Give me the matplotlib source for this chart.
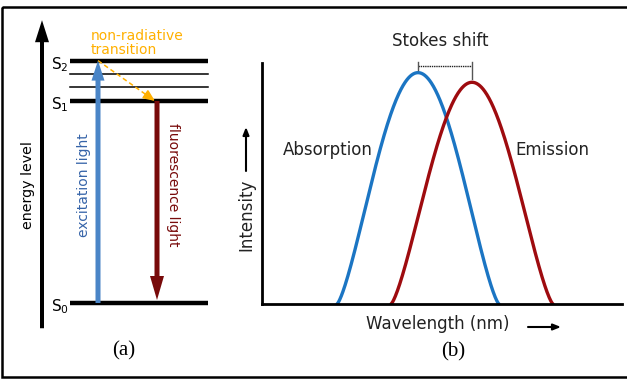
import numpy as np
import matplotlib.pyplot as plt
from matplotlib.patches import Rectangle

# Jablonski diagram: energy levels (arbitrary units)
level_names = ["S$_0$", "S$_1$", "S$_2$"]
level_energy = [0.0, 2.0, 2.4]
vib_energy = [2.27, 2.14]

# spectra: peak wavelength, half width and peak height of each band
band_names = ["Absorption", "Emission"]
band_peak = [456, 510]
band_halfwidth = [81, 81]
band_height = [0.96, 0.92]
band_colors = ["#1b75c3", "#9e0b0f"]

W, H = 627, 379
fig = plt.figure(figsize=(W / 100, H / 100), dpi=100)

# background axes in pixel units for frame and free text
bg = fig.add_axes([0, 0, 1, 1])
bg.set_xlim(0, W)
bg.set_ylim(H, 0)
bg.axis("off")
bg.add_patch(Rectangle((2, 7), 640, 370, fill=False, lw=1.8, ec="black"))

# ---------------- panel (a) ----------------
ax_a = fig.add_axes([0, 0, 230 / W, 1])
ax_a.set_xlim(0, 230)
ax_a.set_ylim((303 - H) / 101, 303 / 101)
ax_a.axis("off")
px = 1 / 101  # one pixel in energy units

# energy axis arrow
ax_a.arrow(42, -0.25, 0, 3.05, width=4, head_width=14, head_length=22 * px,
           length_includes_head=True, color="black", lw=0)
ax_a.text(28, 1.17, "energy level", rotation=90, ha="center", va="center",
          fontsize=10.3)

x0, x1 = 70, 208
for name, e in zip(level_names, level_energy):
    ax_a.plot([x0, x1], [e, e], color="black", lw=3.2, solid_capstyle="butt")
    ax_a.text(69, e - 4 * px, name, ha="right", va="center", fontsize=11)
for e in vib_energy:
    ax_a.plot([x0, x1], [e, e], color="black", lw=1.1)

# excitation (up) and fluorescence (down)
ax_a.arrow(98, level_energy[0], 0, level_energy[2] - level_energy[0],
           width=5, head_width=13, head_length=20 * px,
           length_includes_head=True, color="#4a85c7", lw=0, zorder=3)
ax_a.arrow(157, level_energy[1], 0, level_energy[0] + 3 * px - level_energy[1],
           width=5, head_width=14, head_length=24 * px,
           length_includes_head=True, color="#780a0a", lw=0, zorder=3)
ax_a.text(84, 1.17, "excitation light", rotation=90, ha="center", va="center",
          fontsize=10, color="#3563a8")
ax_a.text(173, 1.17, "fluorescence light", rotation=-90, ha="center",
          va="center", fontsize=10, color="#780a0a")

# non-radiative relaxation S2 -> S1
orange = "#ffb000"
ax_a.plot([98, 146], [level_energy[2], level_energy[2] - 0.337], color=orange,
          lw=1.1, ls=(0, (3, 2)))
ax_a.annotate("", xy=(155, level_energy[1]),
              xytext=(145, level_energy[2] - 0.33),
              arrowprops=dict(arrowstyle="-|>,head_length=0.7,head_width=0.3",
                              color=orange, lw=1.1, shrinkA=0, shrinkB=0))
ax_a.text(91, 43, "non-radiative\ntransition", transform=bg.transData,
          ha="left", va="center", fontsize=10, color=orange, linespacing=1.0)

bg.text(124, 351, "(a)", ha="center", va="center", fontsize=15,
        family="Liberation Serif")

# ---------------- panel (b) ----------------
ax_b = fig.add_axes([262 / W, (H - 304) / H, 360 / W, 241 / H])
ax_b.set_xlim(300, 660)
ax_b.set_ylim(0, 1)
for side in ["top", "right"]:
    ax_b.spines[side].set_visible(False)
for side in ["left", "bottom"]:
    ax_b.spines[side].set_linewidth(2)
ax_b.set_xticks([])
ax_b.set_yticks([])
ax_b.patch.set_alpha(0)

for c, hw, h, col in zip(band_peak, band_halfwidth, band_height, band_colors):
    wl = np.linspace(c - hw, c + hw, 300)
    shape = np.clip(np.cos(0.5 * np.pi * (wl - c) / hw), 0, None) ** 1.35
    ax_b.plot(wl, h * shape, color=col, lw=2.4, solid_capstyle="round")

# Stokes shift bracket between the two peaks
grey = "#555555"
ax_b.plot(band_peak, [0.988, 0.988], color="#222222", lw=1, ls=(0, (1, 0.6)),
          clip_on=False)
ax_b.plot([band_peak[0]] * 2, [1.004, 0.970], color=grey, lw=1, clip_on=False)
ax_b.plot([band_peak[1]] * 2, [1.004, 0.934], color=grey, lw=1, clip_on=False)

txt = "#222222"
bg.text(440, 41, "Stokes shift", ha="center", va="center", fontsize=12,
        color=txt)
bg.text(328, 150, band_names[0], ha="center", va="center", fontsize=12,
        color=txt)
bg.text(552, 150, band_names[1], ha="center", va="center", fontsize=12,
        color=txt)

bg.text(246, 215, "Intensity", rotation=90, ha="center", va="center",
        fontsize=12, color=txt)
bg.annotate("", xy=(246, 127), xytext=(246, 171),
            arrowprops=dict(arrowstyle="-|>,head_length=0.45,head_width=0.18",
                            color="black", lw=1.5, shrinkA=0, shrinkB=0))
bg.text(438, 324, "Wavelength (nm)", ha="center", va="center", fontsize=12,
        color=txt)
bg.annotate("", xy=(561, 327), xytext=(528, 327),
            arrowprops=dict(arrowstyle="-|>,head_length=0.45,head_width=0.18",
                            color="black", lw=1.5, shrinkA=0, shrinkB=0))

bg.text(453, 352, "(b)", ha="center", va="center", fontsize=15,
        family="Liberation Serif")

fig.savefig("out.png", dpi=100)
